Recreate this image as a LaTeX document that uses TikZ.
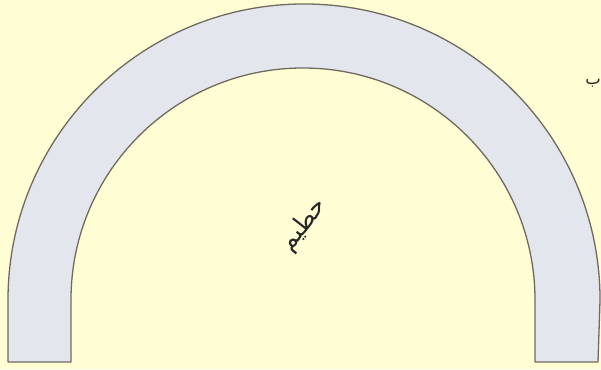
\documentclass[tikz,border=0pt]{standalone}
\usepackage{fontspec}
\newfontfamily\arabicfont[Script=Arabic]{DejaVu Sans}
\TeXXeTstate=1
\usepackage{tikz}
\usetikzlibrary{calc}
\definecolor{paper}{RGB}{255,253,212}
\definecolor{archfill}{RGB}{227,230,236}
\definecolor{archline}{RGB}{112,106,94}
\tikzset{
  archband/.style = {fill=archfill, draw=archline, line width=1.1pt, line join=round},
  arabiclabel/.style = {font=\arabicfont, text=black!85, inner sep=0pt}
}

\begin{document}
\begin{tikzpicture}[x=0.03cm, y=0.03cm]

  \fill[paper] (0,0) rectangle (601,369);
  \useasboundingbox (0,0) rectangle (601,369);

  % the arch
  \draw[archband] (8,7) -- (8,69)
     arc[start angle=180, end angle=0, radius=8.88cm] -- (598,7)
     -- (535,7) -- (535,69)
     arc[start angle=0, end angle=180, radius=6.96cm] -- (71,7) -- cycle;

  \node[arabiclabel, rotate=52, font=\arabicfont\fontsize{21}{24}\selectfont]
     (hatim) at (304,144) {\beginR حطيم\endR};
  \node[arabiclabel, font=\arabicfont\fontsize{14}{16}\selectfont]
     (edge) at (593,286) {\beginR ب\endR};

\end{tikzpicture}
\end{document}
